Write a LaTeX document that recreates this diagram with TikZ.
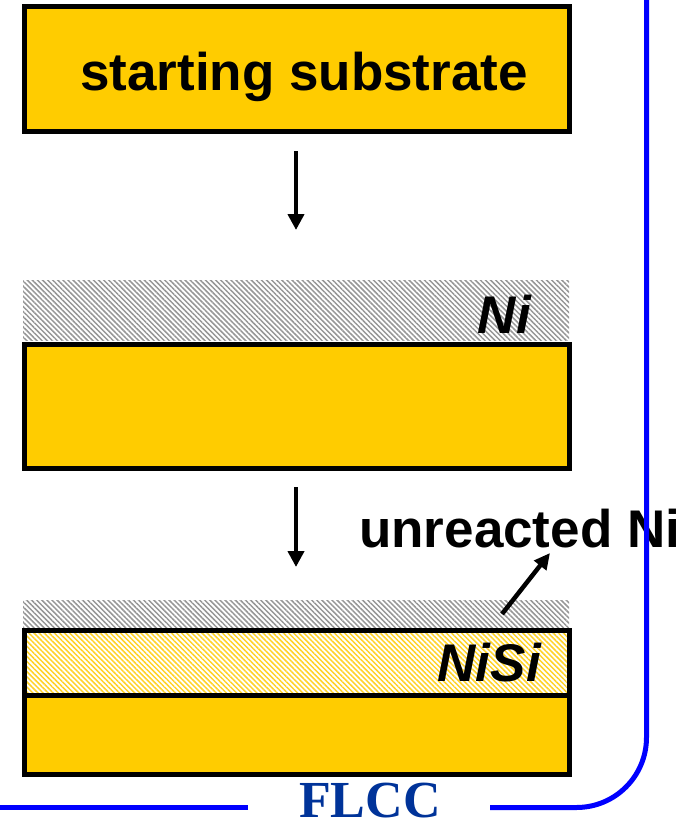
\documentclass[tikz,border=0pt]{standalone}
\usepackage{fontspec}
\setmainfont{Liberation Sans}
\newfontfamily\flccfont{Liberation Serif}
\usetikzlibrary{arrows.meta,patterns.meta}
\definecolor{gold}{RGB}{255,204,0}
\definecolor{hatchgray}{RGB}{150,150,150}
\definecolor{hatchgold}{RGB}{255,210,40}
\definecolor{flccblue}{RGB}{0,51,153}
\definecolor{frameblue}{RGB}{0,0,255}
\tikzset{
  subbox/.style={draw=black, line width=5pt, fill=gold, inner sep=0pt, outer sep=0pt},
  nilayer/.style={pattern={Lines[angle=-45,distance=3.6pt,line width=1.5pt]}, pattern color=hatchgray, inner sep=0pt, outer sep=0pt},
  nisilayer/.style={draw=black, line width=5pt, pattern={Lines[angle=-45,distance=3.6pt,line width=1.5pt]}, pattern color=hatchgold, inner sep=0pt, outer sep=0pt},
  bigtxt/.style={font=\fontsize{53}{60}\selectfont\bfseries, inner sep=0pt, anchor=base west},
  itxt/.style={font=\fontsize{53}{60}\selectfont\bfseries\itshape, inner sep=0pt, anchor=base east},
  stepArrow/.style={line width=4.5pt, -{Triangle[width=16pt,length=16pt]}},
  frame/.style={draw=frameblue, line width=5pt},
}
\begin{document}
\begin{tikzpicture}[x=1pt,y=-1pt]
\useasboundingbox (0,0) rectangle (685,823);
% step 1
\node[subbox, minimum width=545pt, minimum height=124.5pt] (s1) at (297,68.75) {};
\node[bigtxt] (t1) at (80,90) {starting substrate};
% arrow 1
\coordinate (a1s) at (296,151);
\coordinate (a1e) at (296,230);
\draw[stepArrow] (a1s) -- (a1e);
% step 2
\node[nilayer, minimum width=546pt, minimum height=60pt] (ni2) at (296,310) {};
\node[itxt] (tni) at (531,333) {Ni};
\node[subbox, minimum width=545pt, minimum height=124pt] (s2) at (297,406.5) {};
% arrow 2
\coordinate (a2s) at (296,487);
\coordinate (a2e) at (296,567);
\draw[stepArrow] (a2s) -- (a2e);
% step 3
\node[nilayer, minimum width=546pt, minimum height=28pt] (ni3) at (296,614) {};
\node[nisilayer, minimum width=545pt, minimum height=65pt] (nisi) at (297,663) {};
\node[subbox, minimum width=545pt, minimum height=79pt] (s3) at (297,735) {};
\node[itxt] (tnisi) at (541,681) {NiSi};
\node[bigtxt] (tun) at (359,547) {unreacted Ni};
\coordinate (ua) at (502,614);
\coordinate (ub) at (550,553);
\draw[line width=4.5pt, -{Triangle[width=15pt,length=16pt]}] (ua) -- (ub);
% frame
\draw[frame, rounded corners=70pt] (646.5,-5) -- (646.5,807.5) -- (490,807.5);
\draw[frame] (-5,807.5) -- (248,807.5);
\node[font=\fontsize{52}{60}\selectfont\flccfont\bfseries, text=flccblue, inner sep=0pt, anchor=base] (flcc) at (370,817) {FLCC};
\end{tikzpicture}
\end{document}
